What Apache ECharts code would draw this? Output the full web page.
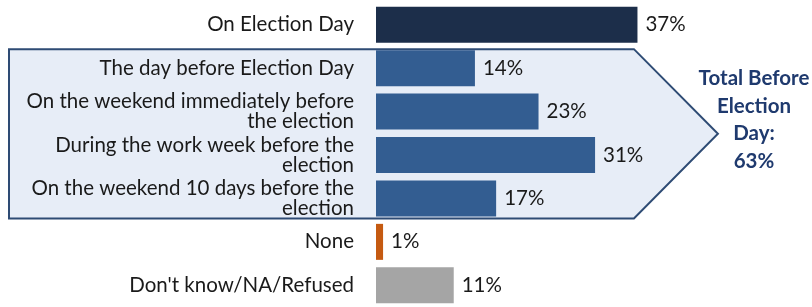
<!DOCTYPE html>
<html>
<head>
<meta charset="utf-8">
<script src="https://cdn.jsdelivr.net/npm/echarts@6/dist/echarts.min.js"></script>
<style>
  html, body { margin: 0; padding: 0; background: #fff; }
  #main { width: 812px; height: 307px; }
</style>
</head>
<body>
<div id="main"></div>
<script>
// categories top to bottom
const categories = [
  'On Election Day',
  'The day before Election Day',
  'On the weekend immediately before\nthe election',
  'During the work week before the\nelection',
  'On the weekend 10 days before the\nelection',
  'None',
  "Don't know/NA/Refused"
]
const values = [37, 14, 23, 31, 17, 1, 11]
const barColors = ['#1c2e4a', '#335d91', '#335d91', '#335d91', '#335d91', '#c55a11', '#a5a5a5']
// rows grouped inside the arrow, and the total shown beside it
const beforeRows = [1, 4]
const totalBefore = 63

const chart = echarts.init(document.getElementById('main'))
const font = 'Lato, "Open Sans", sans-serif'

chart.setOption({
  animation: false,
  grid: { left: 376, right: 12, top: 3, height: 304 },
  xAxis: { type: 'value', min: 0, max: 60, show: false },
  yAxis: {
    type: 'category',
    inverse: true,
    data: categories,
    axisLine: { show: false },
    axisTick: { show: false },
    axisLabel: {
      margin: 22,
      fontFamily: font,
      fontSize: 20.5,
      lineHeight: 20,
      color: '#1a1a1a',
      align: 'right'
    }
  },
  series: [{
    type: 'bar',
    barWidth: 36,
    z: 5,
    data: values.map((v, i) => ({ value: v, itemStyle: { color: barColors[i] } })),
    label: {
      show: true,
      position: 'right',
      distance: 8,
      formatter: '{c}%',
      fontFamily: font,
      fontSize: 20.5,
      color: '#1a1a1a'
    }
  }]
})

// arrow behind the "before election day" rows
const yTop = chart.convertToPixel({ yAxisIndex: 0 }, beforeRows[0]) - 19
const yBot = chart.convertToPixel({ yAxisIndex: 0 }, beforeRows[1]) + 20
const xFlat = chart.convertToPixel({ xAxisIndex: 0 }, 36.5)
const xTip = xFlat + 84
const yMid = (yTop + yBot) / 2

chart.setOption({
  graphic: [
    {
      type: 'polygon',
      z: -10,
      shape: { points: [[9, yTop], [xFlat, yTop], [xTip, yMid], [xFlat, yBot], [9, yBot]] },
      style: { fill: '#e7edf7', stroke: '#2e4b74', lineWidth: 2 }
    },
    {
      type: 'text',
      z: 10,
      x: 754,
      y: yMid - 14,
      style: {
        text: 'Total Before\nElection\nDay:\n' + totalBefore + '%',
        fontFamily: font,
        fontSize: 20.5,
        fontWeight: 'bold',
        lineHeight: 27.5,
        fill: '#1f3a6e',
        align: 'center',
        verticalAlign: 'middle'
      }
    }
  ]
})
</script>
</body>
</html>
